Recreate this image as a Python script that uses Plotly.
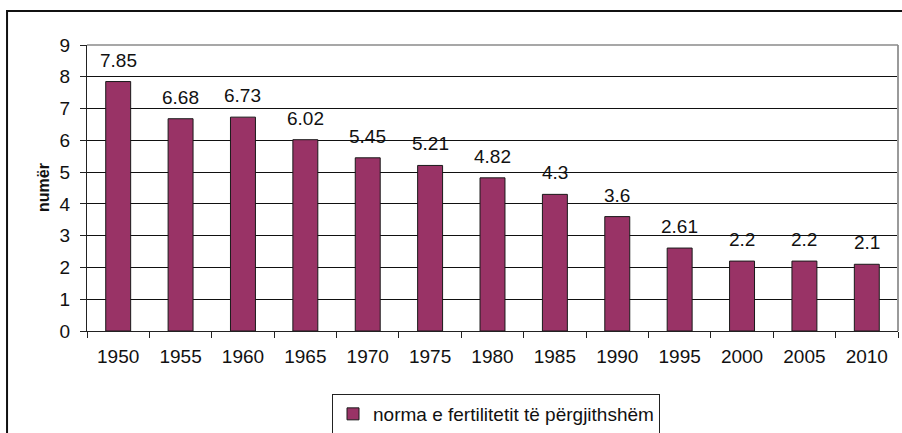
import plotly.graph_objects as go

years = ["1950", "1955", "1960", "1965", "1970", "1975", "1980", "1985", "1990", "1995", "2000", "2005", "2010"]
values = [7.85, 6.68, 6.73, 6.02, 5.45, 5.21, 4.82, 4.3, 3.6, 2.61, 2.2, 2.2, 2.1]
labels = ["7.85", "6.68", "6.73", "6.02", "5.45", "5.21", "4.82", "4.3", "3.6", "2.61", "2.2", "2.2", "2.1"]
series_name = "norma e fertilitetit të përgjithshëm"
y_title = "numër"

FONT = "Arial, Liberation Sans, sans-serif"
FS = 19

fig = go.Figure()
fig.add_trace(go.Bar(
    x=years, y=values, name=series_name,
    marker=dict(color="#993366", line=dict(color="#1a1a1a", width=1)),
    showlegend=True,
))

fig.update_layout(
    width=902, height=433,
    margin=dict(l=87, r=4, t=45, b=102, autoexpand=False),
    paper_bgcolor="white", plot_bgcolor="white",
    font=dict(family=FONT, size=FS, color="#111"),
    bargap=0.6,
    showlegend=True,
    legend=dict(x=332 / 902, y=1 - 394 / 433, xref="container", yref="container",
                xanchor="left", yanchor="top",
                orientation="h", bordercolor="#222", borderwidth=1,
                font=dict(family=FONT, size=FS, color="#111"),
                bgcolor="white", itemwidth=30),
    xaxis=dict(type="category", range=[-0.5, len(years) - 0.5], autorange=False,
               automargin=False,
               showline=True, linecolor="#222", linewidth=1,
               ticks="outside", ticklen=6, tickcolor="#222", tickson="boundaries",
               showgrid=False, ticklabelstandoff=8, tickangle=0,
               tickfont=dict(family=FONT, size=FS, color="#111")),
    yaxis=dict(range=[0, 9], dtick=1, showline=True, linecolor="#222", linewidth=1,
               automargin=False,
               ticks="outside", ticklen=6, tickcolor="#222",
               showgrid=True, gridcolor="#111", gridwidth=1, zeroline=False,
               ticklabelstandoff=6,
               tickfont=dict(family=FONT, size=FS, color="#111")),
    shapes=[
        dict(type="line", xref="paper", yref="paper", x0=1, x1=1, y0=0, y1=1,
             line=dict(color="#9a9a9a", width=2), layer="above"),
        dict(type="line", xref="paper", yref="paper", x0=0, x1=1, y0=1, y1=1,
             line=dict(color="#8a8a8a", width=1.5), layer="above"),
        dict(type="rect", xref="paper", yref="paper", x0=-0.0986, x1=1.2, y0=-0.6, y1=1.119,
             line=dict(color="#111", width=2), layer="above"),
    ],
)

for i, (v, t) in enumerate(zip(values, labels)):
    fig.add_annotation(x=i, y=v, text=t, showarrow=False, yanchor="bottom",
                       yshift=9, font=dict(family=FONT, size=FS, color="#111"))

fig.add_annotation(text="<b>" + y_title + "</b>", xref="paper", yref="paper",
                   x=(43 - 87) / 811, y=0.5, textangle=-90, showarrow=False,
                   xanchor="center", yanchor="middle",
                   font=dict(family=FONT, size=16, color="#111"))

fig.write_html("out.html", config={"displayModeBar": False},
               post_script="document.body.style.margin='0';document.body.style.overflow='hidden';")
